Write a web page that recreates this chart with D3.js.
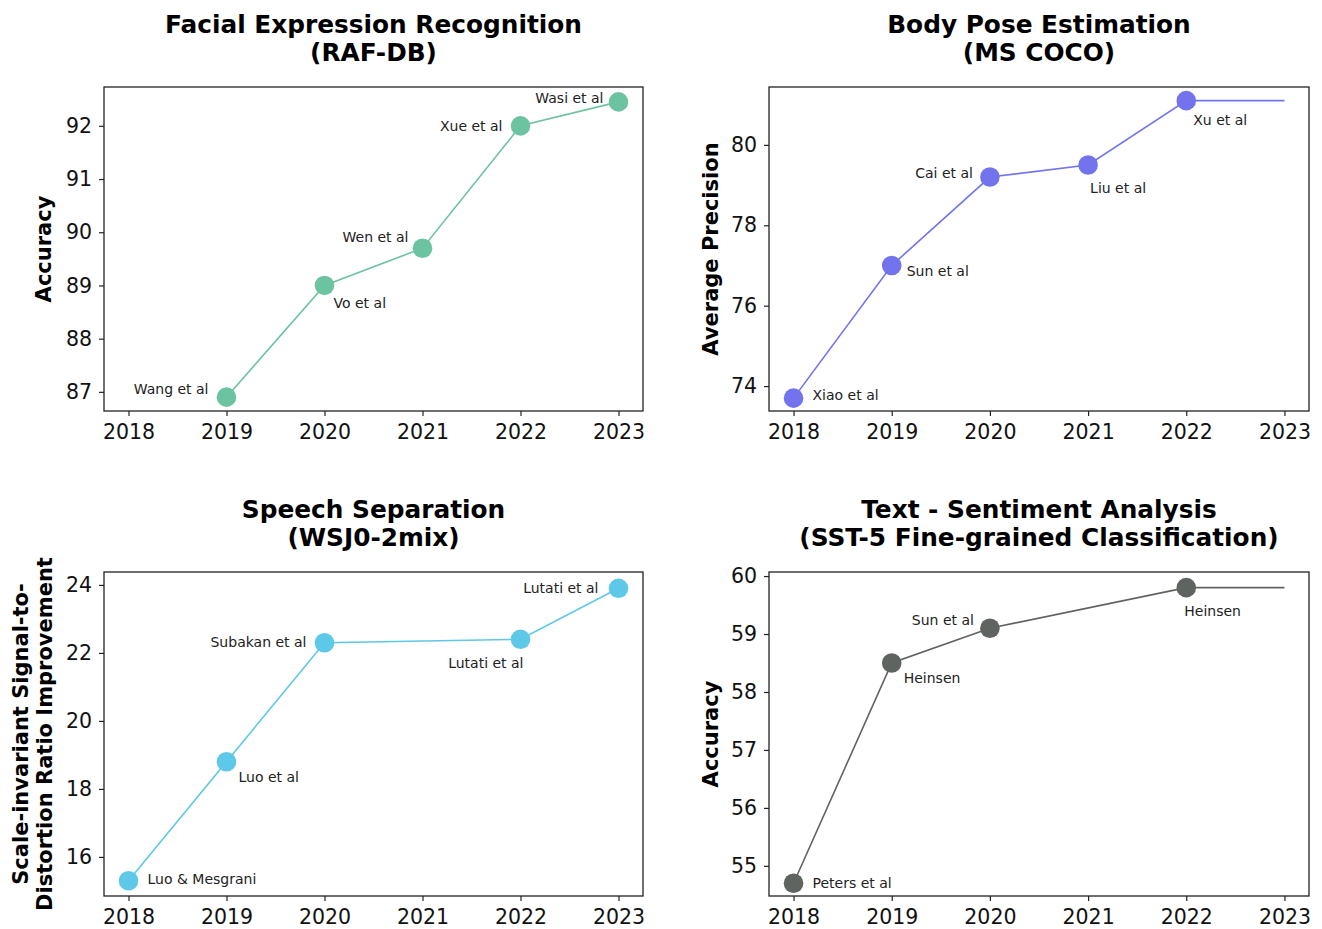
<!DOCTYPE html>
<html>
<head>
<meta charset="utf-8">
<script src="https://cdn.jsdelivr.net/npm/d3@7"></script>
<style>
  html, body { margin: 0; padding: 0; background: #fff; }
  svg { display: block; font-family: "DejaVu Sans", sans-serif; }
</style>
</head>
<body>
<svg id="chart" width="1322" height="929"></svg>
<script>
// ---------- data ----------
const yearTicks = [2018, 2019, 2020, 2021, 2022, 2023];

const ferYears  = [2019, 2020, 2021, 2022, 2023];
const ferValues = [86.9, 89.0, 89.7, 92.0, 92.45];
const ferLabels = ["Wang et al", "Vo et al", "Wen et al", "Xue et al", "Wasi et al"];
const ferTicks  = [87, 88, 89, 90, 91, 92];

const poseYears  = [2018, 2019, 2020, 2021, 2022, 2023];
const poseValues = [73.7, 77.0, 79.2, 79.5, 81.1, 81.1];
const poseLabels = ["Xiao et al", "Sun et al", "Cai et al", "Liu et al", "Xu et al", null];
const poseTicks  = [74, 76, 78, 80];

const speechYears  = [2018, 2019, 2020, 2022, 2023];
const speechValues = [15.3, 18.8, 22.3, 22.4, 23.9];
const speechLabels = ["Luo & Mesgrani", "Luo et al", "Subakan et al", "Lutati et al", "Lutati et al"];
const speechTicks  = [16, 18, 20, 22, 24];

const sstYears  = [2018, 2019, 2020, 2022, 2023];
const sstValues = [54.7, 58.5, 59.1, 59.8, 59.8];
const sstLabels = ["Peters et al", "Heinsen", "Sun et al", "Heinsen", null];
const sstTicks  = [55, 56, 57, 58, 59, 60];

// ---------- layout / style config ----------
const panels = [
  { title: ["Facial Expression Recognition", "(RAF-DB)"], ylabel: ["Accuracy"],
    years: ferYears, values: ferValues, labels: ferLabels, ticks: ferTicks,
    color: "#6cc3a0", box: [104, 87, 643, 411], ydom: [86.64, 92.73],
    offsets: [[-18, -3, "end"], [9, 23, "start"], [-14, -6, "end"], [-18, 5, "end"], [-15, 1, "end"]],
    ylabelX: [43], titleY: [33, 61] },
  { title: ["Body Pose Estimation", "(MS COCO)"], ylabel: ["Average Precision"],
    years: poseYears, values: poseValues, labels: poseLabels, ticks: poseTicks,
    color: "#7373ee", box: [769, 87, 1309, 411], ydom: [73.38, 81.44],
    offsets: [[19, 2, "start"], [15, 11, "start"], [-17, 1, "end"], [2, 28, "start"], [7, 24, "start"]],
    ylabelX: [710], titleY: [33, 61] },
  { title: ["Speech Separation", "(WSJ0-2mix)"], ylabel: ["Scale-invariant Signal-to-", "Distortion Ratio Improvement"],
    years: speechYears, values: speechValues, labels: speechLabels, ticks: speechTicks,
    color: "#5ec8e8", box: [104, 572, 643, 896], ydom: [14.85, 24.38],
    offsets: [[19, 3, "start"], [12, 20, "start"], [-18, 4, "end"], [3, 29, "end"], [-20, 5, "end"]],
    ylabelX: [20, 44], titleY: [518, 546] },
  { title: ["Text - Sentiment Analysis", "(SST-5 Fine-grained Classification)"], ylabel: ["Accuracy"],
    years: sstYears, values: sstValues, labels: sstLabels, ticks: sstTicks,
    color: "#5f6461", box: [769, 572, 1309, 896], ydom: [54.48, 60.07],
    offsets: [[19, 5, "start"], [12, 20, "start"], [-16, -3, "end"], [-2, 28, "start"]],
    ylabelX: [710], titleY: [518, 546] }
];

const svg = d3.select("#chart");

panels.forEach(p => {
  const [x0, y0, x1, y1] = p.box;
  const x = d3.scaleLinear().domain([2017.75, 2023.25]).range([x0, x1]);
  const y = d3.scaleLinear().domain(p.ydom).range([y1, y0]);
  const g = svg.append("g");

  // axes
  const xAxis = g.append("g").attr("transform", `translate(0,${y1})`)
    .call(d3.axisBottom(x).tickValues(yearTicks).tickFormat(d3.format("d")).tickSize(5).tickPadding(8));
  const yAxis = g.append("g").attr("transform", `translate(${x0},0)`)
    .call(d3.axisLeft(y).tickValues(p.ticks).tickFormat(d3.format("d")).tickSize(5).tickPadding(7));
  [xAxis, yAxis].forEach(a => {
    a.select(".domain").remove();
    a.selectAll(".tick line").attr("stroke", "#222").attr("stroke-width", 1.2);
    a.selectAll(".tick text").attr("font-size", 20.5).attr("fill", "#111")
      .attr("font-family", "DejaVu Sans, sans-serif");
  });

  // frame
  g.append("rect").attr("x", x0).attr("y", y0).attr("width", x1 - x0).attr("height", y1 - y0)
    .attr("fill", "none").attr("stroke", "#222").attr("stroke-width", 1.3);

  const pts = p.years.map((yr, i) => ({ yr, v: p.values[i], label: p.labels[i] }));

  // line
  g.append("path").datum(pts)
    .attr("d", d3.line().x(d => x(d.yr)).y(d => y(d.v)))
    .attr("fill", "none").attr("stroke", p.color).attr("stroke-width", 1.6);

  // markers
  const mk = pts.filter(d => d.label !== null);
  g.selectAll("circle.m").data(mk).enter().append("circle")
    .attr("cx", d => x(d.yr)).attr("cy", d => y(d.v)).attr("r", 9.8)
    .attr("fill", p.color);

  // annotations
  g.selectAll("text.ann").data(mk).enter().append("text")
    .attr("x", (d, i) => x(d.yr) + p.offsets[i][0])
    .attr("y", (d, i) => y(d.v) + p.offsets[i][1])
    .attr("text-anchor", (d, i) => p.offsets[i][2])
    .attr("font-size", 14).attr("fill", "#222")
    .text(d => d.label);

  // title
  const cx = (x0 + x1) / 2;
  p.title.forEach((t, i) => {
    svg.append("text").attr("x", cx).attr("y", p.titleY[i])
      .attr("text-anchor", "middle").attr("font-weight", "bold")
      .attr("font-size", 24.8).attr("fill", "#000").text(t);
  });

  // y label
  const cy = (y0 + y1) / 2;
  p.ylabel.forEach((t, i) => {
    svg.append("text")
      .attr("transform", `translate(${p.ylabelX[i]},${cy}) rotate(-90)`)
      .attr("text-anchor", "middle").attr("dy", "0.36em")
      .attr("font-weight", "bold").attr("font-size", 21).attr("fill", "#000").text(t);
  });
});
</script>
</body>
</html>
